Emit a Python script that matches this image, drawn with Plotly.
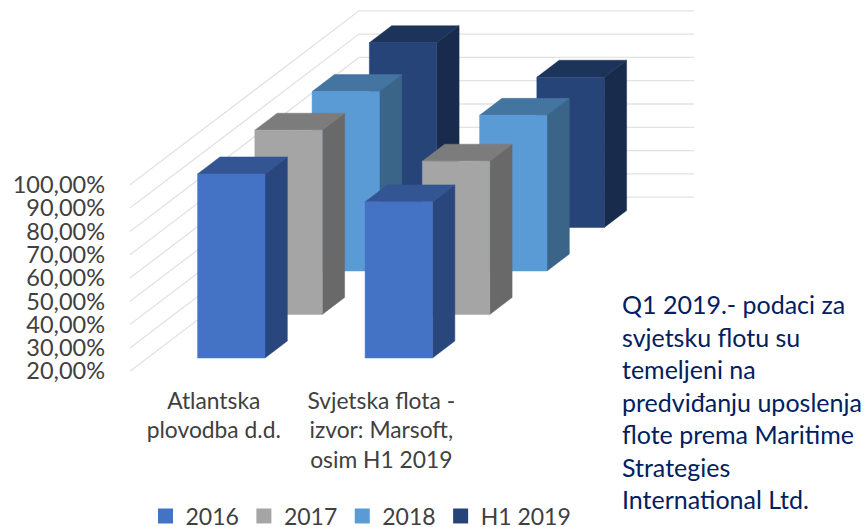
import plotly.graph_objects as go

categories = ["Atlantska<br>plovodba d.d.", "Svjetska flota -<br>izvor: Marsoft,<br>osim H1 2019"]
series = ["2016", "2017", "2018", "H1 2019"]
v_2016 = [0.990, 0.870]
v_2017 = [0.991, 0.858]
v_2018 = [0.970, 0.868]
v_h1 = [0.993, 0.845]
values = [v_2016, v_2017, v_2018, v_h1]
ticks = [0.2, 0.3, 0.4, 0.5, 0.6, 0.7, 0.8, 0.9, 1.0]
note_text = ("Q1 2019.- podaci za<br>svjetsku flotu su<br>temeljeni na<br>predviđanju uposlenja<br>"
             "flote prema Maritime<br>Strategies<br>International Ltd.")
front = ["#4472C4", "#A5A5A5", "#5B9BD5", "#264478"]
top = ["#335593", "#7C7C7C", "#4475A0", "#1C335A"]
side = ["#2A477D", "#696969", "#3A6488", "#182B4D"]

FONT = "Lato"
W, H = 867, 527
ML, MB = 108, 142
UX = 167.5
X_ORIGIN, Y_ORIGIN = 130, 371.2
DX, DY = 229 / UX, 174 / 233   # oblique shift of one full chart depth, in axis units
BAR_X0, BAR_W = 0.2997, 0.4024
STEP = 0.25
D0, BAR_D = 0.076, 0.0975


def proj(x, v, d):
    return x + d * DX, v + d * DY


def poly(pts):
    xs, ys = zip(*[proj(*p) for p in pts])
    return list(xs) + [xs[0], None], list(ys) + [ys[0], None]


fig = go.Figure()

gx, gy = [], []
for t in ticks:
    for p in [(0, t, 0), (0, t, 1), (2, t, 1)]:
        a, b = proj(*p)
        gx.append(a)
        gy.append(b)
    gx.append(None)
    gy.append(None)
fig.add_trace(go.Scatter(x=gx, y=gy, mode="lines", line=dict(color="#E2E2E2", width=1.3),
                         showlegend=False, hoverinfo="skip"))

for s in range(3, -1, -1):
    faces = {"front": ([], []), "top": ([], []), "side": ([], [])}
    for c, v in enumerate(values[s]):
        x0, x1 = c + BAR_X0, c + BAR_X0 + BAR_W
        d0 = s * STEP + D0
        d1 = d0 + BAR_D
        b = ticks[0]
        shapes = {
            "side": [(x1, b, d0), (x1, b, d1), (x1, v, d1), (x1, v, d0)],
            "top": [(x0, v, d0), (x1, v, d0), (x1, v, d1), (x0, v, d1)],
            "front": [(x0, b, d0), (x1, b, d0), (x1, v, d0), (x0, v, d0)],
        }
        for k, pts in shapes.items():
            xs, ys = poly(pts)
            faces[k][0].extend(xs)
            faces[k][1].extend(ys)
    for k, col in (("side", side[s]), ("top", top[s]), ("front", front[s])):
        fig.add_trace(go.Scatter(x=faces[k][0], y=faces[k][1], mode="lines", fill="toself",
                                 fillcolor=col, line=dict(color=col, width=0.5),
                                 showlegend=False, hoverinfo="skip", name=series[s]))

for s, name in enumerate(series):
    fig.add_trace(go.Scatter(x=[None], y=[None], mode="markers", name=name,
                             marker=dict(symbol="square", size=15, color=front[s])))

PH = H - MB
PW = W - ML

fig.update_layout(
    width=W, height=H, autosize=False,
    margin=dict(l=ML, r=0, t=0, b=MB, pad=0, autoexpand=False),
    paper_bgcolor="white", plot_bgcolor="white",
    separators=",.",
    font=dict(family=FONT, color="#404040"),
    xaxis=dict(range=[(ML - X_ORIGIN) / UX, (W - X_ORIGIN) / UX], tickvals=[0.5, 1.5], ticktext=categories,
               showgrid=False, zeroline=False, showline=False, ticks="",
               tickfont=dict(family=FONT, size=22.8, color="#404040"), tickangle=0),
    yaxis=dict(range=[0.2 - (PH - Y_ORIGIN) / 233, 0.2 + Y_ORIGIN / 233], tickvals=ticks, tickformat=".2%",
               showgrid=False, zeroline=False, showline=False, ticks="", ticklabelstandoff=2,
               tickfont=dict(family=FONT, size=23.5, color="#404040")),
    legend=dict(orientation="h", x=(145.5 - ML) / PW, xanchor="left", y=(PH - 516) / PH, yanchor="middle",
                font=dict(family=FONT, size=23, color="#404040"),
                traceorder="normal", itemclick=False, itemdoubleclick=False, bgcolor="rgba(0,0,0,0)"),
    annotations=[dict(text=note_text, xref="paper", yref="paper", x=(620 - ML) / PW, y=(PH - 286.5) / PH,
                      xanchor="left", yanchor="top", align="left", showarrow=False,
                      font=dict(family=FONT, size=25, color="#002060"))],
)
fig.write_html("out.html", config={"displayModeBar": False},
               post_script="document.body.style.margin='0';")
